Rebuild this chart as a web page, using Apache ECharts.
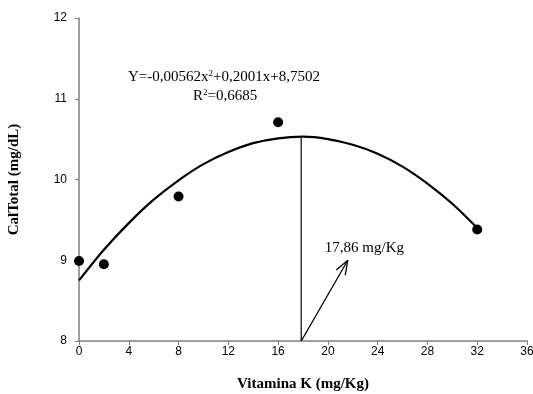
<!DOCTYPE html>
<html>
<head>
<meta charset="utf-8">
<script src="https://cdn.jsdelivr.net/npm/echarts@6/dist/echarts.min.js"></script>
<style>
html, body { margin: 0; padding: 0; background: #fff; }
#chart { width: 533px; height: 394px; }
</style>
</head>
<body>
<div id="chart"></div>
<script>
// pontos observados
var doseX = [0, 2, 8, 16, 32];
var calY = [8.99, 8.95, 9.79, 10.71, 9.38];
// curva ajustada
var curveX = [0, 2, 4, 6, 8, 10, 12, 14, 16, 18, 20, 22, 24, 26, 28, 30, 32];
var curveY = [8.75, 9.13, 9.46, 9.75, 9.99, 10.19, 10.34, 10.45, 10.51, 10.53, 10.50, 10.43, 10.32, 10.16, 9.95, 9.70, 9.40];
// ponto de maximo e seta
var maxX = 17.86;
var maxY = 10.53;
var arrowFrom = [17.86, 8];
var arrowTo = [21.6, 9.0];

var chart = echarts.init(document.getElementById('chart'));

var scatterData = [];
for (var i = 0; i < doseX.length; i++) {
	scatterData.push([doseX[i], calY[i]]);
}
var curveData = [];
for (var j = 0; j < curveX.length; j++) {
	curveData.push([curveX[j], curveY[j]]);
}

var axisGray = '#7f7f7f';
var supStyle = { fontSize: 9, verticalAlign: 'top', fontFamily: 'Liberation Serif', padding: [0, 0, 8, 0] };

var option = {
	animation: false,
	grid: { left: 79, right: 6, top: 18, bottom: 53, outerBoundsMode: 'none', containLabel: false },
	xAxis: {
		type: 'value', min: 0, max: 36, interval: 4,
		name: 'Vitamina K (mg/Kg)',
		nameLocation: 'middle', nameGap: 36,
		nameTextStyle: { fontFamily: 'Liberation Serif', fontWeight: 'bold', fontSize: 15, color: '#000' },
		axisLine: { lineStyle: { color: axisGray, width: 1.5 } },
		axisTick: { show: true, length: 4, lineStyle: { color: axisGray } },
		axisLabel: { fontFamily: 'Liberation Sans', fontSize: 12, color: '#000', margin: 5 },
		splitLine: { show: false }
	},
	yAxis: {
		type: 'value', min: 8, max: 12, interval: 1,
		name: 'CalTotal (mg/dL)',
		nameLocation: 'middle', nameGap: 57,
		nameTextStyle: { fontFamily: 'Liberation Serif', fontWeight: 'bold', fontSize: 15, color: '#000' },
		axisLine: { show: true, lineStyle: { color: axisGray, width: 1.5 } },
		axisTick: { show: true, length: 4, lineStyle: { color: axisGray } },
		axisLabel: { fontFamily: 'Liberation Sans', fontSize: 12, color: '#000', margin: 12 },
		splitLine: { show: false }
	},
	graphic: [{
		type: 'text', left: 128, top: 69,
		style: {
			text: 'Y=-0,00562x{s|2}+0,2001x+8,7502',
			font: '15px "Liberation Serif"', fill: '#000',
			rich: { s: supStyle }
		}
	}, {
		type: 'text', left: 193, top: 88,
		style: {
			text: 'R{s|2}=0,6685',
			font: '15px "Liberation Serif"', fill: '#000',
			rich: { s: supStyle }
		}
	}],
	series: [{
		type: 'line',
		data: curveData,
		smooth: 0.3,
		showSymbol: false,
		lineStyle: { color: '#000', width: 2.2 },
		z: 2
	}, {
		type: 'line',
		data: [[maxX, 8], [maxX, maxY]],
		showSymbol: false,
		lineStyle: { color: '#333', width: 1.5 },
		z: 2
	}, {
		type: 'scatter',
		data: scatterData,
		symbolSize: 10,
		itemStyle: { color: '#000', opacity: 1 },
		z: 3
	}, {
		type: 'custom',
		data: [[arrowFrom[0], arrowFrom[1], arrowTo[0], arrowTo[1]]],
		renderItem: function(params, api) {
			var p0 = api.coord([api.value(0), api.value(1)]);
			var p1 = api.coord([api.value(2), api.value(3)]);
			var ang = Math.atan2(p1[1] - p0[1], p1[0] - p0[0]);
			var len = 15, spread = 0.35;
			var h1 = [p1[0] - len * Math.cos(ang - spread), p1[1] - len * Math.sin(ang - spread)];
			var h2 = [p1[0] - len * Math.cos(ang + spread), p1[1] - len * Math.sin(ang + spread)];
			var st = { stroke: '#000', lineWidth: 1.3, fill: null };
			return {
				type: 'group',
				children: [
					{ type: 'line', shape: { x1: p0[0], y1: p0[1], x2: p1[0], y2: p1[1] }, style: st },
					{ type: 'line', shape: { x1: p1[0], y1: p1[1], x2: h1[0], y2: h1[1] }, style: st },
					{ type: 'line', shape: { x1: p1[0], y1: p1[1], x2: h2[0], y2: h2[1] }, style: st },
					{ type: 'text', x: p1[0] - 23, y: p1[1] - 20,
						style: { text: '17,86 mg/Kg', font: '15px "Liberation Serif"', fill: '#000' } }
				]
			};
		},
		z: 4
	}]
};

chart.setOption(option);
</script>
</body>
</html>
